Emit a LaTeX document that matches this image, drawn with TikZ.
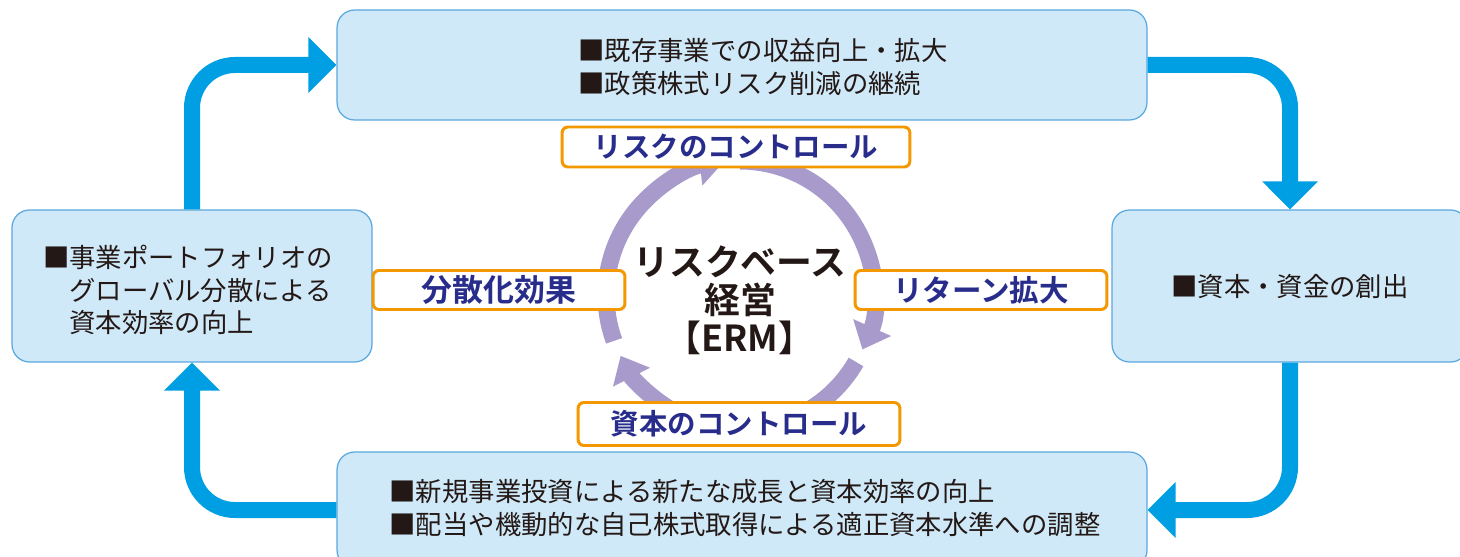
\documentclass[tikz,border=0pt]{standalone}
\usepackage{fontspec}
\setmainfont{Noto Sans CJK JP}[BoldFont={Noto Sans CJK JP Bold}]
\usetikzlibrary{arrows.meta,positioning}
\definecolor{boxfill}{RGB}{207,233,248}
\definecolor{boxline}{RGB}{90,168,224}
\definecolor{flowblue}{RGB}{0,158,226}
\definecolor{ringlav}{RGB}{168,155,204}
\definecolor{tagorange}{RGB}{243,152,0}
\definecolor{tagtext}{RGB}{40,45,140}
\definecolor{ink}{RGB}{35,24,21}
\newcommand{\jtext}{\fontsize{15}{18.5}\selectfont}
\tikzset{
  stage/.style={draw=boxline,fill=boxfill,line width=0.7pt,rounded corners=0.35cm,inner sep=0pt},
  tag/.style={draw=tagorange,fill=white,line width=1.7pt,rounded corners=0.12cm,inner sep=0pt,
    text=tagtext,font=\fontsize{16.2}{18}\selectfont\bfseries},
  flow/.style={draw=flowblue,line width=0.32cm,rounded corners=0.86cm,
    -{Triangle[length=0.56cm,width=1.08cm]}},
  ring/.style={draw=ringlav,line width=0.34cm,-{Triangle[length=0.48cm,width=0.8cm]}},
}
\begin{document}
\begin{tikzpicture}[x=0.02cm,y=-0.02cm]
  \useasboundingbox (0,0) rectangle (1460,557);
  % four stages of the cycle
  \node[stage,minimum width=16.2cm,minimum height=2.2cm] (top) at (742,65) {};
  \node[stage,minimum width=7.2cm,minimum height=3.04cm] (left) at (192,286) {};
  \node[stage,minimum width=7.12cm,minimum height=3.04cm] (right) at (1290,286) {};
  \node[stage,minimum width=16.2cm,minimum height=2.32cm] (bottom) at (742,510) {};
  \node[align=left,font=\jtext,text=ink] (toptxt) at (763,67)
    {■既存事業での収益向上・拡大\\■政策株式リスク削減の継続};
  \node[align=left,font=\jtext,text=ink] (lefttxt) at (188,290)
    {■事業ポートフォリオの\\\phantom{■}グローバル分散による\\\phantom{■}資本効率の向上};
  \node[align=left,font=\jtext,text=ink] (righttxt) at (1290,287) {■資本・資金の創出};
  \node[align=left,font=\jtext,text=ink] (bottomtxt) at (745,508)
    {■新規事業投資による新たな成長と資本効率の向上\\■配当や機動的な自己株式取得による適正資本水準への調整};
  % blue flow arrows
  \draw[flow] (left.north) |- (top.west);
  \draw[flow] (top.east) -| (right.north);
  \draw[flow] (right.south) |- (bottom.east);
  \draw[flow] (bottom.west) -| (left.south);
  % ERM ring
  \coordinate (hub) at (740,295);
  \draw[ring] (hub) ++(200:2.68cm) arc[start angle=200,end angle=97,radius=2.68cm];
  \draw[ring] (hub) ++(90:2.68cm) arc[start angle=90,end angle=-24,radius=2.68cm];
  \draw[ring] (hub) ++(-30:2.68cm) arc[start angle=-30,end angle=-153,radius=2.68cm];
  \node[align=center,text=ink,font=\fontsize{20.4}{21.6}\selectfont\bfseries] (erm) at (740,300)
    {リスクベース\\経営\\【ERM】};
  % orange tags
  \node[tag,minimum width=6.96cm,minimum height=0.8cm] (ctrlrisk) at (736,147) {リスクのコントロール};
  \node[tag,minimum width=5.04cm,minimum height=0.78cm,font=\fontsize{17.6}{18}\selectfont\bfseries]
    (divers) at (499,290) {分散化効果};
  \node[tag,minimum width=5.04cm,minimum height=0.78cm,font=\fontsize{16.8}{18}\selectfont\bfseries]
    (ret) at (981,290) {リターン拡大};
  \node[tag,minimum width=6.44cm,minimum height=0.86cm] (ctrlcap) at (739,424) {資本のコントロール};
\end{tikzpicture}
\end{document}
